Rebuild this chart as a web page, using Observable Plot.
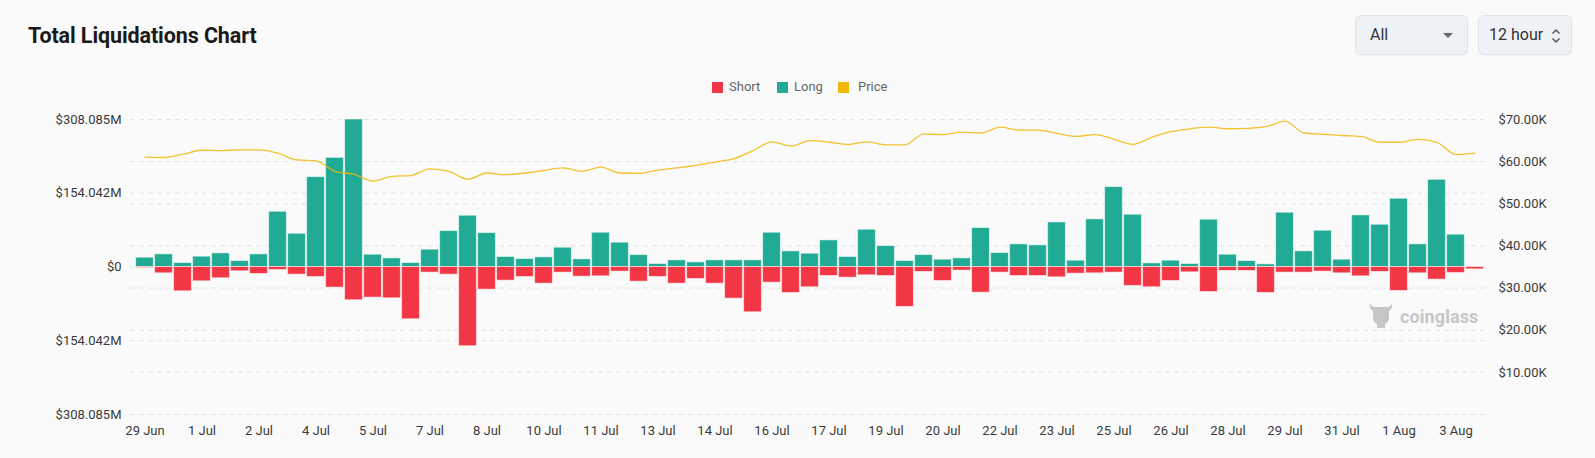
<!DOCTYPE html>
<html>
<head>
<meta charset="utf-8">
<script src="https://cdn.jsdelivr.net/npm/d3@7"></script>
<script src="https://cdn.jsdelivr.net/npm/@observablehq/plot@0.6"></script>
<style>
  html, body { margin: 0; padding: 0; background: #fafafa; }
  body { font-family: Roboto, "Noto Sans", sans-serif; }
  #wrap { position: relative; width: 1595px; height: 458px; overflow: hidden; }
  #header { position: relative; width: 1595px; height: 100px; }
  .title { position: absolute; left: 28px; top: 23px; font-size: 21.5px; font-weight: 700; color: #1a1a1a; letter-spacing: -0.1px; }
  .sel { position: absolute; top: 15px; height: 40px; box-sizing: border-box; background: #eef2f6; border: 1px solid #dfe5ec; border-radius: 6px; font-size: 16px; color: #333; line-height: 38px; box-shadow: 0 1px 1px rgba(0,0,0,0.04); }
  .sel span { position: absolute; left: 14px; top: 0; }
  .legend { position: absolute; top: 79px; font-size: 13px; color: #666; line-height: 16px; }
  .sw { position: absolute; width: 11px; height: 11px; top: 82px; }
  .wm { position: absolute; left: 1368px; top: 302px; height: 28px; color: #c6c6c6; }
  .wm span { position: absolute; left: 32px; top: 6px; font-size: 18px; line-height: 18px; font-weight: 700; letter-spacing: 0.1px; }
  #chart { position: absolute; left: 0; top: 100px; }
</style>
</head>
<body>
<div id="wrap">
  <div id="header">
    <div class="title">Total Liquidations Chart</div>
    <div class="sel" style="left:1355px;width:113px;"><span>All</span>
      <svg style="position:absolute;left:87px;top:17px" width="10" height="6"><path d="M0,0 L10,0 L5,5 Z" fill="#666"/></svg>
    </div>
    <div class="sel" style="left:1478px;width:94px;"><span style="left:10px">12 hour</span>
      <svg style="position:absolute;left:72px;top:12px" width="10" height="16"><path d="M1.5,5.5 L5,2 L8.5,5.5 M1.5,10.5 L5,14 L8.5,10.5" fill="none" stroke="#555" stroke-width="1.5"/></svg>
    </div>
    <div class="sw" style="left:712px;background:#f23645;"></div>
    <div class="legend" style="left:729px;">Short</div>
    <div class="sw" style="left:777px;background:#21ab94;"></div>
    <div class="legend" style="left:794px;">Long</div>
    <div class="sw" style="left:838px;background:#f0b90b;"></div>
    <div class="legend" style="left:858px;">Price</div>
  </div>
  <div id="chart"></div>
  <div class="wm">
    <svg width="26" height="28" viewBox="0 0 26 28" style="position:absolute;left:0;top:0">
      <path d="M2,1 C3,4 5,5 7,5 L19,5 C21,5 23,4 24,1 C25,5 23,8 21,9 L21,16 C21,19 19,21 17,22 L17,26 L9,26 L9,22 C7,21 5,19 5,16 L5,9 C3,8 1,5 2,1 Z" fill="#c6c6c6"/>
    </svg>
    <span>coinglass</span>
  </div>
</div>
<script>
// 12-hour periods, 29 Jun 12:00 through 3 Aug 12:00
const categories = [
  "06/29 12:00","06/30 00:00","06/30 12:00","07/01 00:00","07/01 12:00","07/02 00:00","07/02 12:00","07/03 00:00",
  "07/03 12:00","07/04 00:00","07/04 12:00","07/05 00:00","07/05 12:00","07/06 00:00","07/06 12:00","07/07 00:00",
  "07/07 12:00","07/08 00:00","07/08 12:00","07/09 00:00","07/09 12:00","07/10 00:00","07/10 12:00","07/11 00:00",
  "07/11 12:00","07/12 00:00","07/12 12:00","07/13 00:00","07/13 12:00","07/14 00:00","07/14 12:00","07/15 00:00",
  "07/15 12:00","07/16 00:00","07/16 12:00","07/17 00:00","07/17 12:00","07/18 00:00","07/18 12:00","07/19 00:00",
  "07/19 12:00","07/20 00:00","07/20 12:00","07/21 00:00","07/21 12:00","07/22 00:00","07/22 12:00","07/23 00:00",
  "07/23 12:00","07/24 00:00","07/24 12:00","07/25 00:00","07/25 12:00","07/26 00:00","07/26 12:00","07/27 00:00",
  "07/27 12:00","07/28 00:00","07/28 12:00","07/29 00:00","07/29 12:00","07/30 00:00","07/30 12:00","07/31 00:00",
  "07/31 12:00","08/01 00:00","08/01 12:00","08/02 00:00","08/02 12:00","08/03 00:00","08/03 12:00"
];

const xTickLabels = ["29 Jun","1 Jul","2 Jul","4 Jul","5 Jul","7 Jul","8 Jul","10 Jul","11 Jul","13 Jul","14 Jul","16 Jul",
  "17 Jul","19 Jul","20 Jul","22 Jul","23 Jul","25 Jul","26 Jul","28 Jul","29 Jul","31 Jul","1 Aug","3 Aug"];

// Long liquidations (millions USD)
const longM = [
  19.5, 26.4, 8.3, 21.6, 28.5, 12.5, 26.4, 115.4, 69.5, 187.8,
  228.0, 308.085, 25.7, 18.1, 8.3, 36.2, 75.1, 107.1, 70.9, 20.9,
  16.7, 20.2, 40.3, 16.0, 71.6, 50.8, 25.0, 6.3, 13.9, 9.7,
  13.9, 13.9, 13.9, 71.6, 32.7, 27.8, 55.6, 20.9, 77.9, 43.8,
  12.5, 25.0, 15.3, 18.1, 81.4, 29.2, 47.3, 45.2, 93.2, 13.2,
  99.5, 166.9, 109.2, 7.6, 13.2, 6.3, 98.8, 25.7, 12.5, 5.6,
  113.4, 32.7, 75.8, 15.3, 107.8, 88.3, 142.6, 47.3, 182.2, 67.5,
  0.5
];

// Short liquidations (millions USD)
const shortM = [
  2.0, 13.2, 50.8, 29.9, 23.6, 9.0, 14.6, 6.3, 16.0, 20.9,
  43.1, 69.5, 64.0, 65.4, 109.2, 11.8, 16.0, 165.5, 47.3, 28.5,
  20.9, 34.8, 11.8, 20.2, 19.5, 9.7, 30.6, 20.9, 34.8, 25.0,
  34.8, 66.1, 94.6, 32.7, 54.2, 42.4, 18.8, 22.3, 17.4, 18.8,
  83.5, 10.4, 29.2, 7.6, 53.6, 11.8, 18.8, 18.8, 21.6, 13.9,
  13.2, 11.8, 39.6, 42.4, 29.2, 11.1, 52.2, 8.3, 8.3, 54.2,
  11.8, 11.8, 9.7, 13.2, 19.5, 10.4, 50.1, 13.2, 26.4, 12.5,
  4.9
];

// BTC price (thousands USD)
const priceK = [
  61.06, 60.98, 61.77, 62.7, 62.6, 62.8, 62.8, 62.0, 60.4, 60.2,
  57.7, 57.0, 55.4, 56.5, 56.7, 58.3, 57.7, 55.8, 57.3, 56.9,
  57.3, 57.9, 58.5, 57.7, 58.7, 57.3, 57.2, 58.0, 58.5, 59.1,
  59.9, 60.7, 62.6, 64.7, 63.7, 65.0, 64.6, 64.1, 64.7, 64.0,
  64.0, 66.6, 66.4, 67.0, 66.8, 68.2, 67.5, 67.5, 66.7, 66.0,
  66.4, 65.3, 64.1, 65.8, 67.1, 67.8, 68.2, 67.8, 67.9, 68.3,
  69.6, 66.8, 66.5, 66.2, 66.0, 64.6, 64.6, 65.3, 64.6, 61.7,
  62.0
];

const leftTickValues = [-308.085, -154.0425, 0, 154.0425, 308.085];
const leftTickLabels = ["$308.085M", "$154.042M", "$0", "$154.042M", "$308.085M"];
const priceTickValues = [10, 20, 30, 40, 50, 60, 70];
const priceTickLabels = ["$10.00K", "$20.00K", "$30.00K", "$40.00K", "$50.00K", "$60.00K", "$70.00K"];
const priceGridValues = [0, 10, 20, 30, 40, 50, 60, 70];

const GREEN = "#21ab94", RED = "#f23645", YELLOW = "#f0b90b";
const yMax = 308.085, priceMax = 70;
const priceToY = p => -yMax + (p / priceMax) * 2 * yMax;

const rows = categories.map((t, i) => ({t, long: longM[i], short: shortM[i], price: priceK[i]}));
const xTicks = categories.filter((c, i) => i % 3 === 0);
const priceTickPos = priceTickValues.map(priceToY);

const gridStyle = {stroke: "#e4e4e4", strokeOpacity: 1, strokeDasharray: "5,4"};

const chart = Plot.plot({
  width: 1595,
  height: 358,
  marginTop: 19,
  marginBottom: 44,
  marginLeft: 130,
  marginRight: 107,
  style: {background: "transparent", color: "#3a3a3a", fontFamily: "Roboto, sans-serif", fontSize: "13px"},
  x: {type: "band", domain: categories, padding: 0},
  y: {domain: [-yMax, yMax]},
  marks: [
    Plot.gridY(leftTickValues, gridStyle),
    Plot.gridY(priceGridValues.map(priceToY), gridStyle),
    Plot.barY(rows, {x: "t", y1: 0, y2: "long", fill: GREEN, stroke: "#ffffff", strokeOpacity: 0.55, strokeWidth: 1, insetLeft: 0.6, insetRight: 0.6}),
    Plot.barY(rows, {x: "t", y1: 0, y2: d => -d.short, fill: RED, stroke: "#ffffff", strokeOpacity: 0.55, strokeWidth: 1, insetLeft: 0.6, insetRight: 0.6}),
    Plot.line(rows, {x: "t", y: d => priceToY(d.price), stroke: YELLOW, strokeOpacity: 0.85, strokeWidth: 1.3, curve: "monotone-x"}),
    Plot.axisY({ticks: leftTickValues, tickFormat: d => leftTickLabels[leftTickValues.indexOf(d)], anchor: "left", tickSize: 0, tickPadding: 9, label: null}),
    Plot.axisY({ticks: priceTickPos, tickFormat: d => priceTickLabels[priceTickPos.indexOf(d)], anchor: "right", tickSize: 0, tickPadding: 10, label: null}),
    Plot.axisX({ticks: xTicks, tickFormat: d => xTickLabels[xTicks.indexOf(d)], anchor: "bottom", tickSize: 0, tickPadding: 11, label: null})
  ]
});
document.getElementById("chart").appendChild(chart);
</script>
</body>
</html>
